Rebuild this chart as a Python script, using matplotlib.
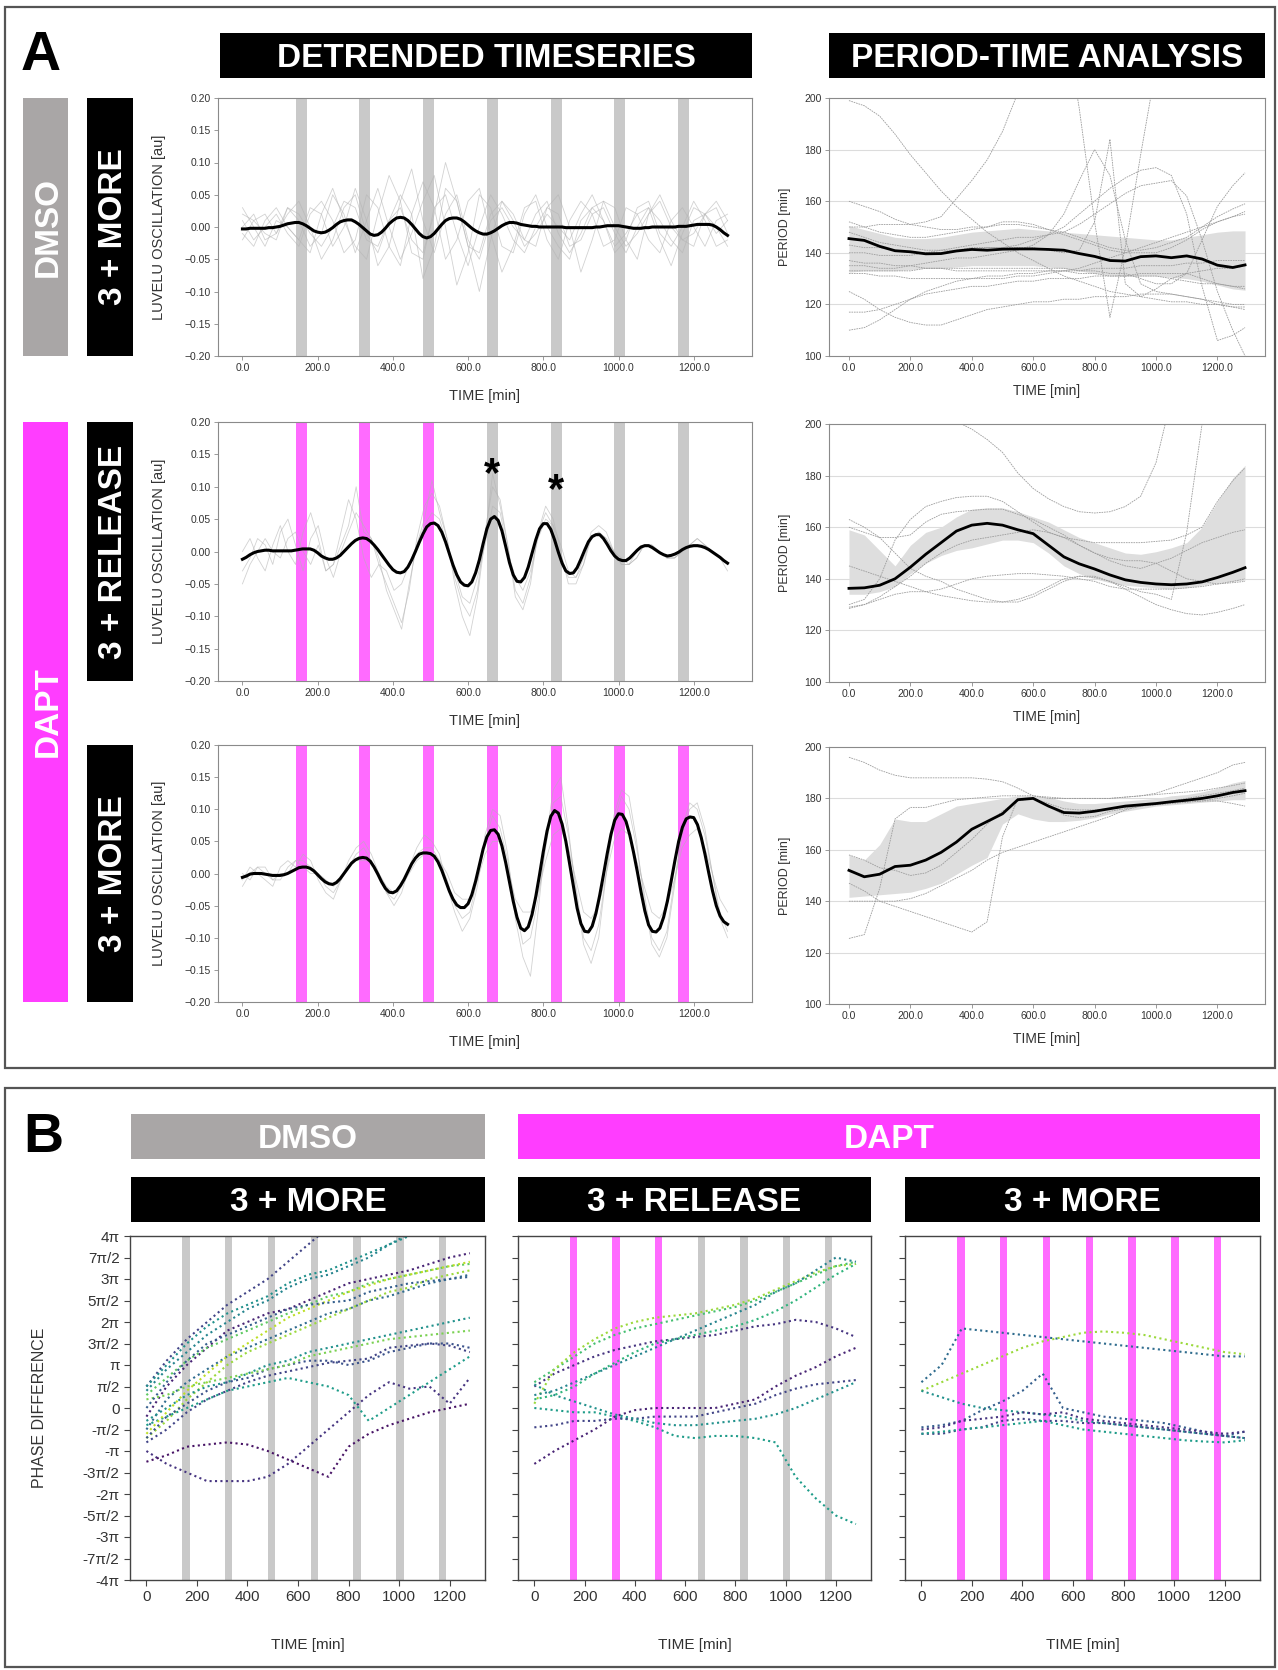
import numpy as np
import matplotlib
matplotlib.use("Agg")
import matplotlib.pyplot as plt
from matplotlib.patches import Rectangle
from matplotlib import font_manager

nan = np.nan

# ---------------- detrended timeseries, population mean (10 min steps, 0..1290 min)
ts_mean_dmso_more = [
    -0.003, -0.003, -0.002, -0.002, -0.002, -0.002, -0.002, -0.001, -0.001, 0.000,
    0.001, 0.003, 0.005, 0.006, 0.007, 0.007, 0.005, 0.002, -0.002, -0.006,
    -0.008, -0.009, -0.008, -0.005, -0.001, 0.004, 0.008, 0.010, 0.011, 0.011,
    0.008, 0.004, -0.001, -0.006, -0.011, -0.013, -0.012, -0.008, -0.002, 0.005,
    0.010, 0.014, 0.015, 0.014, 0.010, 0.004, -0.003, -0.010, -0.015, -0.017,
    -0.015, -0.010, -0.003, 0.004, 0.010, 0.013, 0.014, 0.014, 0.012, 0.008,
    0.003, -0.002, -0.006, -0.009, -0.011, -0.011, -0.009, -0.006, -0.002, 0.002,
    0.005, 0.007, 0.007, 0.006, 0.004, 0.003, 0.002, 0.001, 0.001, 0.000,
    0.000, 0.000, 0.000, 0.000, 0.000, 0.000, -0.001, -0.001, -0.001, -0.001,
    -0.001, -0.001, -0.001, -0.001, 0.000, 0.000, 0.001, 0.002, 0.002, 0.002,
    0.002, 0.001, 0.000, -0.001, -0.002, -0.002, -0.002, -0.001, -0.001, 0.000,
    0.000, 0.000, 0.000, 0.000, 0.000, 0.000, 0.001, 0.001, 0.001, 0.002,
    0.003, 0.004, 0.004, 0.004, 0.004, 0.003, 0.000, -0.004, -0.009, -0.013]
ts_mean_dapt_release = [
    -0.012, -0.009, -0.005, -0.002, 0.000, 0.001, 0.002, 0.002, 0.001, 0.001,
    0.001, 0.001, 0.001, 0.001, 0.002, 0.003, 0.004, 0.004, 0.004, 0.002,
    -0.002, -0.007, -0.010, -0.012, -0.012, -0.010, -0.006, 0.000, 0.006, 0.012,
    0.017, 0.020, 0.021, 0.020, 0.016, 0.010, 0.003, -0.005, -0.013, -0.021,
    -0.028, -0.032, -0.033, -0.031, -0.024, -0.013, 0.000, 0.014, 0.027, 0.038,
    0.043, 0.044, 0.040, 0.030, 0.015, -0.003, -0.021, -0.036, -0.047, -0.052,
    -0.053, -0.047, -0.033, -0.013, 0.012, 0.035, 0.050, 0.054, 0.048, 0.032,
    0.008, -0.017, -0.036, -0.046, -0.047, -0.040, -0.024, -0.003, 0.018, 0.035,
    0.043, 0.043, 0.034, 0.018, -0.001, -0.018, -0.030, -0.034, -0.033, -0.025,
    -0.012, 0.002, 0.015, 0.023, 0.026, 0.026, 0.020, 0.011, 0.001, -0.007,
    -0.012, -0.014, -0.014, -0.010, -0.004, 0.002, 0.007, 0.009, 0.009, 0.006,
    0.002, -0.002, -0.005, -0.007, -0.006, -0.004, -0.001, 0.003, 0.006, 0.008,
    0.009, 0.009, 0.008, 0.006, 0.003, -0.001, -0.005, -0.009, -0.014, -0.018]
ts_mean_dapt_more = [
    -0.006, -0.004, -0.001, 0.000, 0.000, 0.000, -0.001, -0.002, -0.003, -0.003,
    -0.003, -0.002, 0.000, 0.003, 0.006, 0.009, 0.010, 0.010, 0.008, 0.004,
    -0.002, -0.008, -0.013, -0.016, -0.017, -0.014, -0.008, 0.000, 0.008, 0.016,
    0.021, 0.024, 0.025, 0.024, 0.019, 0.010, -0.001, -0.013, -0.023, -0.029,
    -0.030, -0.027, -0.019, -0.009, 0.003, 0.015, 0.024, 0.030, 0.032, 0.032,
    0.031, 0.027, 0.018, 0.005, -0.011, -0.027, -0.040, -0.049, -0.053, -0.053,
    -0.047, -0.033, -0.012, 0.013, 0.038, 0.057, 0.067, 0.068, 0.061, 0.043,
    0.017, -0.013, -0.043, -0.068, -0.085, -0.089, -0.083, -0.064, -0.036, -0.002,
    0.034, 0.066, 0.089, 0.098, 0.094, 0.077, 0.050, 0.015, -0.021, -0.054,
    -0.078, -0.090, -0.091, -0.082, -0.062, -0.034, -0.002, 0.031, 0.061, 0.083,
    0.093, 0.092, 0.081, 0.060, 0.033, 0.003, -0.029, -0.058, -0.080, -0.090,
    -0.091, -0.085, -0.068, -0.043, -0.012, 0.020, 0.050, 0.072, 0.085, 0.088,
    0.087, 0.076, 0.056, 0.030, 0.001, -0.027, -0.050, -0.066, -0.075, -0.079]

# single-embryo traces (coarser sampling over 0..1290 min)
ts_traces_dmso_more = [
    [0.01, -0.02, 0.00, 0.02, -0.01, -0.03, 0.02, 0.04, 0.01, -0.04, -0.02, 0.05, 0.03, -0.03, -0.06,
     0.02, 0.07, 0.03, -0.05, -0.02, 0.04, 0.06, -0.01, -0.07, -0.03, 0.03, 0.04, -0.02, -0.05, 0.01,
     0.04, 0.02, -0.03, -0.02, 0.03, 0.02, -0.02, -0.04, 0.01, 0.03, 0.00, -0.03, 0.01, 0.02],
    [-0.02, 0.01, 0.02, -0.01, 0.03, 0.01, -0.03, -0.01, 0.05, 0.02, -0.04, 0.01, 0.06, 0.00, -0.05,
     -0.01, 0.04, 0.08, 0.00, -0.09, -0.04, 0.05, 0.03, -0.03, -0.04, 0.02, 0.05, 0.00, -0.03, -0.05,
     0.01, 0.03, 0.01, -0.04, -0.02, 0.03, 0.04, -0.01, -0.03, 0.00, 0.04, 0.01, -0.03, -0.02],
    [0.00, 0.02, -0.02, -0.01, 0.02, 0.04, 0.00, -0.05, -0.02, 0.03, 0.05, -0.01, -0.04, 0.01, 0.05,
     0.02, -0.08, -0.03, 0.06, 0.04, -0.03, -0.10, -0.02, 0.04, 0.02, -0.02, -0.03, 0.03, 0.05, 0.00,
     -0.07, -0.02, 0.04, 0.03, -0.02, -0.05, 0.02, 0.04, 0.00, -0.02, -0.03, 0.02, 0.03, -0.01],
    [0.03, 0.00, -0.03, 0.01, 0.00, -0.02, 0.03, 0.02, -0.03, 0.00, 0.06, 0.01, -0.06, -0.03, 0.04,
     0.09, 0.01, -0.04, 0.02, 0.05, -0.02, -0.05, 0.01, 0.03, 0.00, -0.02, 0.02, 0.04, -0.01, -0.04,
     -0.01, 0.03, 0.04, 0.00, -0.03, -0.01, 0.02, 0.05, 0.01, -0.02, -0.01, 0.02, 0.04, 0.01],
    [-0.01, -0.03, 0.01, 0.03, 0.00, -0.02, -0.04, 0.02, 0.06, 0.01, -0.03, -0.05, 0.02, 0.08, 0.04,
     -0.04, -0.05, 0.03, 0.05, -0.01, -0.06, 0.00, 0.05, 0.02, -0.02, -0.04, 0.00, 0.03, 0.02, -0.03,
     -0.02, 0.02, 0.03, -0.01, -0.04, 0.00, 0.03, 0.01, -0.02, -0.04, 0.01, 0.02, 0.00, -0.03],
    [0.02, 0.01, -0.01, -0.02, 0.03, 0.02, -0.01, -0.03, 0.00, 0.04, 0.03, -0.02, -0.03, 0.01, 0.03,
     -0.02, -0.04, 0.02, 0.10, 0.04, -0.03, -0.04, 0.02, 0.04, 0.01, -0.03, -0.01, 0.02, 0.00, -0.02,
     0.02, 0.05, 0.01, -0.03, -0.01, 0.02, 0.03, -0.02, -0.06, -0.01, 0.03, 0.02, -0.01, 0.01],
]
ts_traces_dapt_release = [
    [-0.03, -0.01, 0.02, 0.01, -0.02, 0.03, 0.05, 0.01, -0.03, 0.02, 0.04, -0.01, -0.04, 0.00, 0.03,
     0.06, 0.04, 0.02, -0.02, -0.05, -0.08, -0.11, -0.06, 0.02, 0.07, 0.09, 0.07, 0.02, -0.04, -0.08,
     -0.10, -0.06, 0.03, 0.10, 0.08, 0.01, -0.06, -0.08, -0.04, 0.03, 0.07, 0.05, 0.00, -0.05, -0.05,
     -0.02, 0.03, 0.04, 0.03, 0.00, -0.02, -0.02, 0.00, 0.01, 0.01, 0.00, -0.01, -0.01, 0.00, 0.01,
     0.02, 0.01, 0.00, -0.01, -0.02],
    [0.00, 0.02, -0.01, -0.03, 0.01, 0.04, 0.00, -0.02, 0.03, 0.06, 0.02, -0.03, -0.02, 0.03, 0.08,
     0.05, -0.01, -0.04, -0.02, -0.03, -0.06, -0.05, -0.02, 0.01, 0.04, 0.06, 0.05, 0.01, -0.03, -0.07,
     -0.08, -0.04, 0.01, 0.07, 0.06, 0.00, -0.04, -0.06, -0.03, 0.02, 0.05, 0.04, 0.01, -0.03, -0.04,
     -0.02, 0.02, 0.03, 0.02, 0.00, -0.01, -0.02, -0.01, 0.01, 0.01, 0.00, -0.01, -0.01, 0.00, 0.01,
     0.01, 0.01, 0.00, -0.01, -0.02],
    [-0.05, -0.02, 0.00, 0.02, 0.00, -0.01, 0.02, 0.03, 0.00, -0.02, 0.01, -0.03, -0.02, 0.01, 0.04,
     0.10, 0.03, 0.02, -0.01, -0.06, -0.09, -0.12, -0.05, 0.01, 0.05, 0.11, 0.06, 0.02, -0.05, -0.10,
     -0.13, -0.07, 0.02, 0.12, 0.07, 0.01, -0.07, -0.09, -0.05, 0.03, 0.06, 0.04, -0.01, -0.04, -0.04,
     -0.01, 0.02, 0.03, 0.02, 0.00, -0.02, -0.02, -0.01, 0.01, 0.01, 0.00, -0.01, -0.01, 0.00, 0.01,
     0.02, 0.01, 0.00, -0.01, -0.03],
]
ts_traces_dapt_more = [
    [-0.01, 0.01, 0.00, -0.01, -0.02, 0.01, 0.02, 0.01, 0.03, 0.02, -0.01, -0.03, -0.04, -0.01, 0.02,
     0.04, 0.05, 0.03, 0.00, -0.03, -0.05, -0.03, 0.01, 0.04, 0.06, 0.05, 0.03, -0.02, -0.06, -0.09,
     -0.07, -0.02, 0.06, 0.10, 0.09, 0.03, -0.07, -0.13, -0.16, -0.06, 0.05, 0.13, 0.15, 0.07, -0.03,
     -0.11, -0.14, -0.10, 0.00, 0.09, 0.13, 0.12, 0.05, -0.04, -0.11, -0.13, -0.10, -0.02, 0.07, 0.11,
     0.10, 0.06, 0.00, -0.06, -0.09],
    [0.00, -0.01, 0.01, 0.00, -0.01, -0.01, 0.01, 0.02, 0.01, 0.00, 0.00, -0.01, -0.02, -0.01, 0.01,
     0.02, 0.02, 0.02, 0.00, -0.02, -0.03, -0.02, 0.00, 0.02, 0.03, 0.03, 0.02, 0.00, -0.03, -0.04,
     -0.04, -0.01, 0.03, 0.05, 0.05, 0.01, -0.04, -0.06, -0.06, -0.03, 0.02, 0.06, 0.07, 0.04, -0.01,
     -0.06, -0.07, -0.05, 0.00, 0.05, 0.07, 0.06, 0.02, -0.02, -0.06, -0.07, -0.05, -0.01, 0.04, 0.06,
     0.07, 0.04, 0.00, -0.04, -0.06],
    [-0.02, 0.00, 0.01, 0.01, -0.01, 0.00, 0.00, 0.02, 0.02, 0.01, 0.00, -0.02, -0.03, -0.01, 0.01,
     0.03, 0.04, 0.02, 0.00, -0.03, -0.04, -0.02, 0.01, 0.03, 0.04, 0.04, 0.02, -0.01, -0.05, -0.07,
     -0.06, -0.01, 0.05, 0.09, 0.07, 0.02, -0.05, -0.11, -0.10, -0.04, 0.04, 0.11, 0.12, 0.06, -0.02,
     -0.10, -0.12, -0.08, 0.00, 0.08, 0.12, 0.10, 0.04, -0.03, -0.10, -0.12, -0.09, -0.01, 0.06, 0.10,
     0.11, 0.07, 0.00, -0.07, -0.10],
]

# ---------------- period-time analysis (min)
period_time = [0, 50, 100, 150, 200, 250, 300, 350, 400, 450, 500, 550, 600, 650, 700,
               750, 800, 850, 900, 950, 1000, 1050, 1100, 1150, 1200, 1250, 1290]
period_mean_dmso_more = [145.5, 144.8, 142.5, 140.8, 140.4, 139.6, 139.7, 140.7, 141.3, 141.0, 141.4, 141.5, 141.5, 141.3,
                         141.0, 139.7, 138.6, 137.0, 136.8, 138.5, 138.8, 138.1, 138.8, 137.6, 135.2, 134.3, 135.3]
period_hi_dmso_more = [150.5, 149, 147.5, 146, 145.5, 145.5, 146, 147, 148, 148.5, 149, 149.5, 149, 148.5,
                       148, 147.5, 147, 146.5, 146, 145.5, 145, 145, 146, 147, 148, 148.5, 148.5]
period_lo_dmso_more = [132.5, 133, 133, 133, 133.5, 134, 134, 134.5, 135, 135, 135, 135, 135, 134.5,
                       134, 133, 132, 131.5, 131, 131, 131, 130.5, 130, 129, 127.5, 126, 125.5]
period_traces_dmso_more = [
    [199, 197, 193, 186, 178, 171, 164, 158, 153, 148, 144, 140, 137, 134, 131, 129, 127, 125, 124, 123, 122, 121, 121, 120, 120, 119, 119],
    [150, 150, 151, 151, 151, 152, 154, 161, 168, 176, 187, 202, 220, nan, nan, nan, nan, nan, nan, nan, nan, nan, nan, nan, nan, nan, nan],
    [nan, nan, nan, nan, nan, nan, nan, nan, nan, nan, nan, nan, nan, nan, 232, 196, 152, 115, 142, 178, 212, nan, nan, nan, nan, nan, nan],
    [148, 146, 144, 143, 142, 141, 141, 141, 142, 142, 142, 142, 142, 141, 140, 141, 152, 184, 128, 123, 126, 130, 132, 130, 128, 127, 127],
    [135, 135, 134, 134, 135, 136, 137, 138, 138, 139, 140, 141, 143, 147, 155, 168, 180, 170, 145, 128, 125, 124, 123, 122, 121, 120, 120],
    [143, 142, 142, 141, 140, 140, 140, 141, 141, 142, 142, 143, 145, 147, 150, 155, 160, 165, 169, 172, 173, 170, 155, 127, 106, 108, 111],
    [140, 140, 139, 139, 139, 140, 141, 142, 143, 144, 145, 146, 146, 147, 148, 151, 155, 159, 163, 166, 167, 168, 162, 145, 125, 110, 100],
    [133, 133, 133, 133, 133, 134, 134, 134, 134, 134, 134, 134, 134, 134, 134, 133, 133, 132, 132, 130, 128, 128, 132, 145, 158, 166, 171],
    [125, 122, 118, 115, 113, 112, 112, 114, 116, 118, 119, 120, 121, 121, 122, 122, 123, 123, 123, 124, 124, 124, 123, 122, 120, 119, 118],
    [117, 117, 118, 120, 122, 124, 125, 126, 127, 127, 128, 129, 129, 130, 130, 130, 131, 131, 131, 132, 132, 132, 132, 133, 134, 134, 135],
    [110, 111, 114, 118, 122, 125, 127, 129, 130, 131, 131, 132, 132, 133, 133, 133, 134, 134, 134, 135, 135, 135, 136, 136, 137, 137, 137],
    [160, 158, 156, 153, 151, 150, 149, 149, 150, 150, 152, 152, 151, 149, 147, 145, 143, 141, 140, 140, 140, 142, 145, 149, 152, 154, 156],
    [152, 150, 148, 147, 146, 146, 147, 148, 149, 150, 151, 151, 150, 149, 148, 146, 144, 142, 141, 141, 142, 144, 146, 150, 154, 157, 159],
    [137, 136, 136, 135, 135, 134, 134, 133, 133, 133, 133, 133, 133, 133, 133, 132, 132, 131, 131, 131, 131, 130, 129, 128, 128, 127, 126],
    [132, 132, 131, 131, 130, 130, 130, 130, 130, 130, 130, 131, 131, 132, 133, 134, 136, 138, 140, 142, 144, 146, 148, 150, 152, 154, 155],
]
period_mean_dapt_release = [136.3, 136.5, 137.5, 140, 144.5, 149.5, 154, 158.5, 160.8, 161.5, 160.8, 159, 157.5, 153,
                            148.5, 145.8, 143.8, 141.5, 139.6, 138.6, 138, 137.7, 138, 138.8, 140.5, 142.5, 144.3]
period_hi_dapt_release = [159, 157, 151, 145, 153, 158, 160, 164, 167, 167.5, 167.5, 166, 164, 162,
                          159, 156, 154, 152, 150, 149.5, 150.5, 152, 154, 160, 170, 179, 184]
period_lo_dapt_release = [134, 134, 135, 137, 142, 146, 149, 151, 152, 153.5, 155, 155, 154, 150,
                          145, 142, 140, 138.5, 137.5, 137, 136.5, 136, 136.5, 137.5, 138.5, 139, 139.5]
period_traces_dapt_release = [
    [nan, nan, nan, nan, nan, nan, nan, 201, 198, 194, 189, 181, 175, 171, 168, 166, 165.5, 166, 168, 172, 185, 210, nan, nan, nan, nan, nan],
    [163, 160, 156, 150, 144, 141, 139, 136, 134, 132, 131, 131, 133, 136, 139, 141, 141, 139, 137, 135, 134, 132, 158, 200, 240, nan, nan],
    [130, 132, 140, 155, 163, 168, 170, 171.5, 172, 172, 170, 166, 162, 158, 156, 155, 154, 154, 154, 154, 154.5, 155, 157, 160, 170, 178, 183],
    [129, 130, 133, 137, 141, 146, 150, 153, 155, 156, 157, 158, 159, 158, 156, 153, 150, 147, 145, 144, 146, 148, 151, 154, 156, 158, 159],
    [128.5, 130, 132, 134, 135, 135, 136, 138, 140, 141, 141.5, 142, 142, 141.5, 141, 140, 139, 137, 136, 136, 136, 136, 136.5, 137, 138, 139, 140],
    [145, 143, 141, 139, 137, 135, 133.5, 132.5, 131.5, 131, 131, 132, 134, 137, 140, 141, 140.5, 139, 136, 133, 130, 128, 126.5, 126, 127, 128.5, 130],
    [160, 158, 156, 156, 157, 162, 165, 166, 166.5, 167, 167, 165, 163, 160, 157, 153, 150, 148, 147, 147, 146, 143, 140, 139, 138, 138.5, 139],
]
period_mean_dapt_more = [152, 149.5, 150.5, 153.5, 154, 156, 159, 163, 168, 171, 174, 179.5, 180, 177,
                         174.5, 174.3, 175, 176, 177, 177.5, 178, 178.7, 179.3, 180, 181, 182.3, 183]
period_hi_dapt_more = [158, 156, 162, 172, 171, 171, 174, 177, 178, 179, 180, 181, 181, 180.5,
                       179, 178, 178, 178.5, 179, 179.5, 180, 181, 181.5, 182.5, 184, 186, 187]
period_lo_dapt_more = [141.5, 142, 142.5, 143, 143.5, 145, 147, 150.5, 154, 157, 170, 174, 172, 171,
                       171, 171.5, 172.5, 174, 175, 176, 177, 177.5, 178, 178.5, 179, 179.5, 179.5]
period_traces_dapt_more = [
    [196, 194, 191, 189, 188, 188, 188, 188, 188, 187.5, 186.5, 184, 181, 180, 180, 180, 180, 180, 180.5, 181, 182, 184, 186, 188, 190, 193, 194],
    [125.5, 127, 145, 172, 176.5, 176.5, 178, 179.5, 180, 180.5, 181, 181, 181, 180.5, 180, 180, 180, 180, 180.5, 181, 181.5, 182, 182.5, 183, 184, 185, 186],
    [147, 144, 140, 138, 136, 134, 132, 130, 128, 132, 165, 180, 180, 178, 176, 175.5, 175.5, 176, 176.5, 177, 177.5, 178, 178.5, 179, 180, 181, 182],
    [140, 140, 140, 140, 141, 143, 146, 149, 152, 156, 159, 161, 163, 165, 167, 169, 171, 173, 175.5, 177, 178, 178.5, 179, 179, 179, 178, 177],
    [158, 156, 153, 152, 150, 151, 154, 159, 164, 170, 175, 179, 180, 177, 173.5, 172.5, 173, 175, 176, 177, 178, 179, 180, 181, 182, 183, 184],
]

# ---------------- phase difference (units of pi), sampled every 80 min from 0 to 1280 min
phase_traces_dmso_more = [
    [0.5, 1.1, 1.6, 2.0, 2.4, 2.7, 3.0, 3.4, 3.8, 4.2, nan, nan, nan, nan, nan, nan, nan],
    [0.4, 0.9, 1.3, 1.7, 2.0, 2.3, 2.5, 2.8, 3.0, 3.1, 3.3, 3.5, 3.8, 4.05, nan, nan, nan],
    [-0.2, 0.5, 1.0, 1.4, 1.8, 2.0, 2.2, 2.3, 2.5, 2.7, 2.9, 3.0, 3.1, 3.2, 3.35, 3.5, 3.6],
    [0.3, 0.7, 1.1, 1.4, 1.6, 1.8, 2.0, 2.2, 2.4, 2.6, 2.7, 2.9, 3.0, 3.1, 3.2, 3.3, 3.35],
    [-0.5, 0.2, 0.6, 0.9, 1.2, 1.4, 1.6, 1.8, 2.0, 2.2, 2.3, 2.5, 2.6, 2.75, 2.9, 3.0, 3.1],
    [-0.7, -0.3, 0.2, 0.6, 1.0, 1.3, 1.5, 1.7, 1.9, 2.1, 2.3, 2.5, 2.7, 2.8, 3.0, 3.1, 3.2],
    [-0.3, 0.0, 0.3, 0.5, 0.6, 0.8, 1.0, 1.1, 1.3, 1.4, 1.5, 1.6, 1.7, 1.8, 1.9, 2.0, 2.1],
    [-0.7, -0.2, 0.1, 0.4, 0.6, 0.7, 0.9, 1.0, 1.1, 1.1, 1.0, 1.1, 1.3, 1.4, 1.5, 1.5, 1.4],
    [0.2, 0.3, 0.5, 0.6, 0.7, 0.8, 0.9, 1.0, 1.2, 1.3, 1.4, 1.5, 1.6, 1.65, 1.7, 1.75, 1.8],
    [-0.4, -0.2, 0.0, 0.2, 0.4, 0.5, 0.6, 0.7, 0.6, 0.5, 0.3, -0.3, 0.0, 0.3, 0.6, 0.9, 1.2],
    [-1.0, -1.3, -1.5, -1.7, -1.7, -1.7, -1.6, -1.3, -0.9, -0.5, -0.1, 0.3, 0.6, 0.45, 0.5, 0.1, 0.7],
    [-1.25, -1.1, -0.9, -0.85, -0.8, -0.85, -1.0, -1.2, -1.4, -1.6, -0.9, -0.6, -0.4, -0.25, -0.1, 0.0, 0.1],
    [0.5, 1.0, 1.5, 1.9, 2.2, 2.4, 2.6, 2.9, 3.1, 3.2, 3.4, 3.6, 3.8, 4.0, 4.2, nan, nan],
    [-0.6, -0.1, 0.4, 0.8, 1.2, 1.5, 1.8, 2.1, 2.3, 2.5, 2.7, 2.85, 3.0, 3.1, 3.2, 3.3, 3.4],
    [0.0, 0.6, 1.1, 1.5, 1.7, 1.9, 2.1, 2.3, 2.4, 2.45, 2.5, 2.7, 2.8, 2.9, 2.95, 3.0, 3.05],
    [-0.8, -0.5, -0.1, 0.2, 0.4, 0.6, 0.75, 0.85, 0.95, 1.05, 1.1, 1.15, 1.4, 1.45, 1.5, 1.45, 1.3],
]
phase_traces_dapt_release = [
    [0.0, -0.05, -0.1, -0.1, -0.2, -0.3, -0.45, -0.65, -0.7, -0.65, -0.65, -0.7, -0.8, -1.6, -2.1, -2.5, -2.7],
    [0.6, 0.9, 1.2, 1.5, 1.7, 1.85, 1.95, 2.05, 2.15, 2.25, 2.35, 2.5, 2.7, 2.9, 3.1, 3.3, 3.4],
    [0.5, 0.8, 1.0, 1.2, 1.35, 1.45, 1.55, 1.6, 1.65, 1.7, 1.8, 1.9, 1.95, 2.05, 2.0, 1.85, 1.65],
    [-1.3, -1.0, -0.75, -0.5, -0.2, -0.05, 0.0, 0.0, 0.0, 0.0, 0.1, 0.2, 0.5, 0.75, 0.95, 1.2, 1.4],
    [-0.45, -0.4, -0.3, -0.3, -0.25, -0.25, -0.2, -0.2, -0.2, -0.1, 0.0, 0.1, 0.3, 0.45, 0.55, 0.6, 0.65],
    [0.1, 0.9, 1.3, 1.6, 1.85, 2.0, 2.1, 2.15, 2.2, 2.3, 2.4, 2.55, 2.75, 2.95, 3.15, 3.3, 3.35],
    [0.3, 0.4, 0.6, 0.8, 1.0, 1.2, 1.4, 1.6, 1.8, 2.0, 2.2, 2.4, 2.7, 2.9, 3.2, 3.5, 3.4],
    [0.2, 0.3, 0.5, 0.8, 1.05, 1.3, 1.5, 1.6, 1.7, 1.8, 1.9, 2.05, 2.25, 2.5, 2.8, 3.1, 3.35],
    [0.55, 0.3, 0.15, 0.0, -0.15, -0.25, -0.35, -0.4, -0.4, -0.35, -0.3, -0.25, -0.15, 0.0, 0.2, 0.4, 0.6],
]
phase_traces_dapt_more = [
    [0.6, 1.0, 1.85, 1.8, 1.75, 1.7, 1.65, 1.6, 1.55, 1.5, 1.45, 1.4, 1.35, 1.3, 1.25, 1.2, 1.2],
    [0.4, 0.6, 0.8, 1.0, 1.2, 1.4, 1.55, 1.65, 1.75, 1.78, 1.75, 1.7, 1.6, 1.5, 1.4, 1.3, 1.25],
    [0.4, 0.25, 0.1, 0.0, -0.05, -0.1, -0.15, -0.2, -0.3, -0.35, -0.4, -0.45, -0.5, -0.55, -0.6, -0.65, -0.7],
    [-0.45, -0.4, -0.3, -0.05, 0.15, 0.4, 0.8, 0.0, -0.1, -0.2, -0.25, -0.3, -0.35, -0.45, -0.55, -0.65, -0.55],
    [-0.5, -0.45, -0.3, -0.25, -0.2, -0.1, -0.15, -0.1, -0.25, -0.3, -0.35, -0.4, -0.45, -0.5, -0.55, -0.6, -0.55],
    [-0.6, -0.6, -0.5, -0.45, -0.3, -0.25, -0.3, -0.3, -0.35, -0.35, -0.4, -0.45, -0.5, -0.55, -0.6, -0.65, -0.7],
    [-0.6, -0.55, -0.5, -0.45, -0.4, -0.35, -0.3, -0.4, -0.5, -0.55, -0.6, -0.65, -0.7, -0.75, -0.78, -0.8, -0.75],
]
phase_ticklabels = ["-4π", "-7π/2", "-3π", "-5π/2", "-2π", "-3π/2", "-π", "-π/2", "0",
                    "π/2", "π", "3π/2", "2π", "5π/2", "3π", "7π/2", "4π"]

# ---------------- stimulation pulses (min)
pulse_centers = [156, 325, 495, 664, 834, 1003, 1172]
pulse_width = 29
pulses_dmso_more = ["DMSO"] * 7
pulses_dapt_release = ["DAPT", "DAPT", "DAPT", "DMSO", "DMSO", "DMSO", "DMSO"]
pulses_dapt_more = ["DAPT"] * 7

# ---------------- styling
W, H = 1278, 1670
fonts = {f.name for f in font_manager.fontManager.ttflist}
NARROW = "Liberation Sans Narrow" if "Liberation Sans Narrow" in fonts else "Liberation Sans"
plt.rcParams["font.family"] = ["Liberation Sans", "DejaVu Sans"]
DMSO_GRAY = "#a9a6a6"
DAPT_MAG = "#ff3dff"
PULSE_COL = {"DMSO": "#c9c9c9", "DAPT": "#ff6bff"}
# viridis position of each single-embryo phase trace, per panel
shade_dmso = [0.2, 0.45, 0.1, 0.75, 0.35, 0.85, 0.5, 0.25, 0.8, 0.55, 0.15, 0.05, 0.5, 0.9, 0.3, 0.2]
shade_release = [0.55, 0.7, 0.15, 0.1, 0.2, 0.85, 0.45, 0.65, 0.5]
shade_more = [0.35, 0.85, 0.5, 0.3, 0.15, 0.2, 0.55]

fig = plt.figure(figsize=(W / 100, H / 100), dpi=100)


def frac(x0, y0, x1, y1):
    return [x0 / W, 1 - y1 / H, (x1 - x0) / W, (y1 - y0) / H]


def box(x0, y0, x1, y1, color, text, vertical=False, size=24):
    l, b, w, h = frac(x0, y0, x1, y1)
    fig.add_artist(Rectangle((l, b), w, h, transform=fig.transFigure, facecolor=color, edgecolor="none"))
    # nudge so the capitals (not the descender box) sit in the middle of the bar
    cx = l + w / 2 + (3 / W if vertical else 0)
    cy = b + h / 2 - (0 if vertical else 3 / H)
    fig.text(cx, cy, text, rotation=90 if vertical else 0, ha="center", va="center",
             color="white", fontsize=size, fontweight="bold")


def frame(x0, y0, x1, y1):
    l, b, w, h = frac(x0, y0, x1, y1)
    fig.add_artist(Rectangle((l, b), w, h, transform=fig.transFigure, fill=False,
                             edgecolor="#555555", lw=1.6))


def pulses(ax, kinds):
    for c, k in zip(pulse_centers, kinds):
        ax.axvspan(c - pulse_width / 2, c + pulse_width / 2, color=PULSE_COL[k], lw=0, zorder=0)


def small_axes(ax, spine_col="#8a8a8a"):
    for s in ax.spines.values():
        s.set_color(spine_col)
        s.set_linewidth(0.8)
    ax.tick_params(length=3, width=0.6, color=spine_col, labelsize=7.5, labelcolor="#333333",
                   labelfontfamily=NARROW, pad=2)


# ---------------- panel A
frame(5, 7, 1275, 1068)
fig.text(21 / W, 1 - 70 / H, "A", fontsize=40, fontweight="bold", va="baseline")
box(220, 33, 752, 78, "black", "DETRENDED TIMESERIES")
box(829, 33, 1265, 78, "black", "PERIOD-TIME ANALYSIS")
box(23, 98, 68, 356, DMSO_GRAY, "DMSO", vertical=True)
box(87, 98, 133, 356, "black", "3 + MORE", vertical=True)
box(23, 422, 68, 1002, DAPT_MAG, "DAPT", vertical=True)
box(87, 422, 133, 681, "black", "3 + RELEASE", vertical=True)
box(87, 745, 133, 1002, "black", "3 + MORE", vertical=True)

rows_left = [(98, 356), (422, 681), (745, 1002)]
rows_right = [(98, 356), (424, 682), (747, 1004)]
ts_sets = [(ts_mean_dmso_more, ts_traces_dmso_more, pulses_dmso_more),
           (ts_mean_dapt_release, ts_traces_dapt_release, pulses_dapt_release),
           (ts_mean_dapt_more, ts_traces_dapt_more, pulses_dapt_more)]
per_sets = [(period_mean_dmso_more, period_lo_dmso_more, period_hi_dmso_more, period_traces_dmso_more),
            (period_mean_dapt_release, period_lo_dapt_release, period_hi_dapt_release, period_traces_dapt_release),
            (period_mean_dapt_more, period_lo_dapt_more, period_hi_dapt_more, period_traces_dapt_more)]

ts_yticks = [-0.20, -0.15, -0.10, -0.05, 0.00, 0.05, 0.10, 0.15, 0.20]
time_ticks = [0, 200, 400, 600, 800, 1000, 1200]

for i, ((y0, y1), (mean, traces, kinds)) in enumerate(zip(rows_left, ts_sets)):
    ax = fig.add_axes(frac(218, y0, 752, y1))
    pulses(ax, kinds)
    for tr in traces:
        ax.plot(np.linspace(0, 1290, len(tr)), tr, color="#b4b4b4", lw=0.6, alpha=0.6, zorder=1)
    ax.plot(np.linspace(0, 1290, len(mean)), mean, color="black", lw=2.2, zorder=3)
    ax.set_xlim(-65, 1355)
    ax.set_ylim(-0.2, 0.2)
    ax.set_yticks(ts_yticks)
    ax.set_yticklabels([f"{v:.2f}".replace("-", "\u2212") for v in ts_yticks])
    ax.set_xticks(time_ticks)
    ax.set_xticklabels([f"{v:.1f}" for v in time_ticks])
    small_axes(ax)
    ax.set_ylabel("LUVELU OSCILLATION [au]", fontsize=10.5, color="#333333")
    ax.yaxis.label.set_verticalalignment("center")
    ax.yaxis.set_label_coords(-0.11, 0.5)
    ax.set_xlabel("TIME [min]", fontsize=10.5, color="#333333")
    ax.xaxis.label.set_verticalalignment("center")
    ax.xaxis.set_label_coords(0.5, -0.155)
    if i == 1:
        ax.text(664, 0.118, "*", ha="center", va="center", fontsize=30, fontweight="bold")
        ax.text(834, 0.093, "*", ha="center", va="center", fontsize=30, fontweight="bold")

for (y0, y1), (mean, lo, hi, traces) in zip(rows_right, per_sets):
    ax = fig.add_axes(frac(829, y0, 1265, y1))
    for g in [120, 140, 160, 180]:
        ax.axhline(g, color="#dcdcdc", lw=0.8, zorder=0)
    ax.fill_between(period_time, lo, hi, color="#dedede", lw=0, zorder=1)
    for tr in traces:
        ax.plot(period_time, tr, color="#9c9c9c", lw=0.6, ls=(0, (2, 1)), zorder=2)
    ax.plot(period_time, mean, color="black", lw=2.0, zorder=3)
    ax.set_xlim(-65, 1355)
    ax.set_ylim(100, 200)
    ax.set_yticks([100, 120, 140, 160, 180, 200])
    ax.set_xticks(time_ticks)
    ax.set_xticklabels([f"{v:.1f}" for v in time_ticks])
    small_axes(ax)
    ax.set_ylabel("PERIOD [min]", fontsize=9, color="#333333")
    ax.yaxis.label.set_verticalalignment("center")
    ax.yaxis.set_label_coords(-0.10, 0.5)
    ax.set_xlabel("TIME [min]", fontsize=10, color="#333333")
    ax.xaxis.label.set_verticalalignment("center")
    ax.xaxis.set_label_coords(0.5, -0.135)

# ---------------- panel B
frame(5, 1088, 1275, 1667)
fig.text(23 / W, 1 - 1152 / H, "B", fontsize=40, fontweight="bold", va="baseline")
box(131, 1114, 485, 1159, DMSO_GRAY, "DMSO")
box(518, 1114, 1260, 1159, DAPT_MAG, "DAPT")
box(131, 1177, 485, 1222, "black", "3 + MORE")
box(518, 1177, 871, 1222, "black", "3 + RELEASE")
box(905, 1177, 1260, 1222, "black", "3 + MORE")

b_cols = [(130, 485), (518, 871), (905, 1260)]
b_sets = [(phase_traces_dmso_more, pulses_dmso_more, shade_dmso),
          (phase_traces_dapt_release, pulses_dapt_release, shade_release),
          (phase_traces_dapt_more, pulses_dapt_more, shade_more)]
phase_ticks = np.arange(-4, 4.01, 0.5)

for j, ((x0, x1), (traces, kinds, shades)) in enumerate(zip(b_cols, b_sets)):
    ax = fig.add_axes(frac(x0, 1236, x1, 1580))
    pulses(ax, kinds)
    for tr, sh in zip(traces, shades):
        ax.plot(np.linspace(0, 1280, len(tr)), tr, color=plt.cm.viridis(sh),
                lw=1.5, ls=(0, (1, 1.6)), zorder=2)
    ax.set_xlim(-65, 1340)
    ax.set_ylim(-4, 4)
    ax.set_yticks(phase_ticks)
    ax.set_xticks(time_ticks)
    for s in ax.spines.values():
        s.set_color("#444444")
        s.set_linewidth(1.0)
    ax.tick_params(length=4, width=0.8, color="#444444", labelsize=11, labelcolor="#333333")
    if j == 0:
        ax.set_yticklabels(phase_ticklabels)
        ax.set_ylabel("PHASE DIFFERENCE", fontsize=11.5, color="#333333")
        ax.yaxis.label.set_verticalalignment("center")
        ax.yaxis.set_label_coords(-0.256, 0.5)
    else:
        ax.tick_params(labelleft=False)
    ax.set_xlabel("TIME [min]", fontsize=11, color="#333333")
    ax.xaxis.label.set_verticalalignment("center")
    ax.xaxis.set_label_coords(0.5, -0.19)

fig.savefig("out.png", dpi=100)
